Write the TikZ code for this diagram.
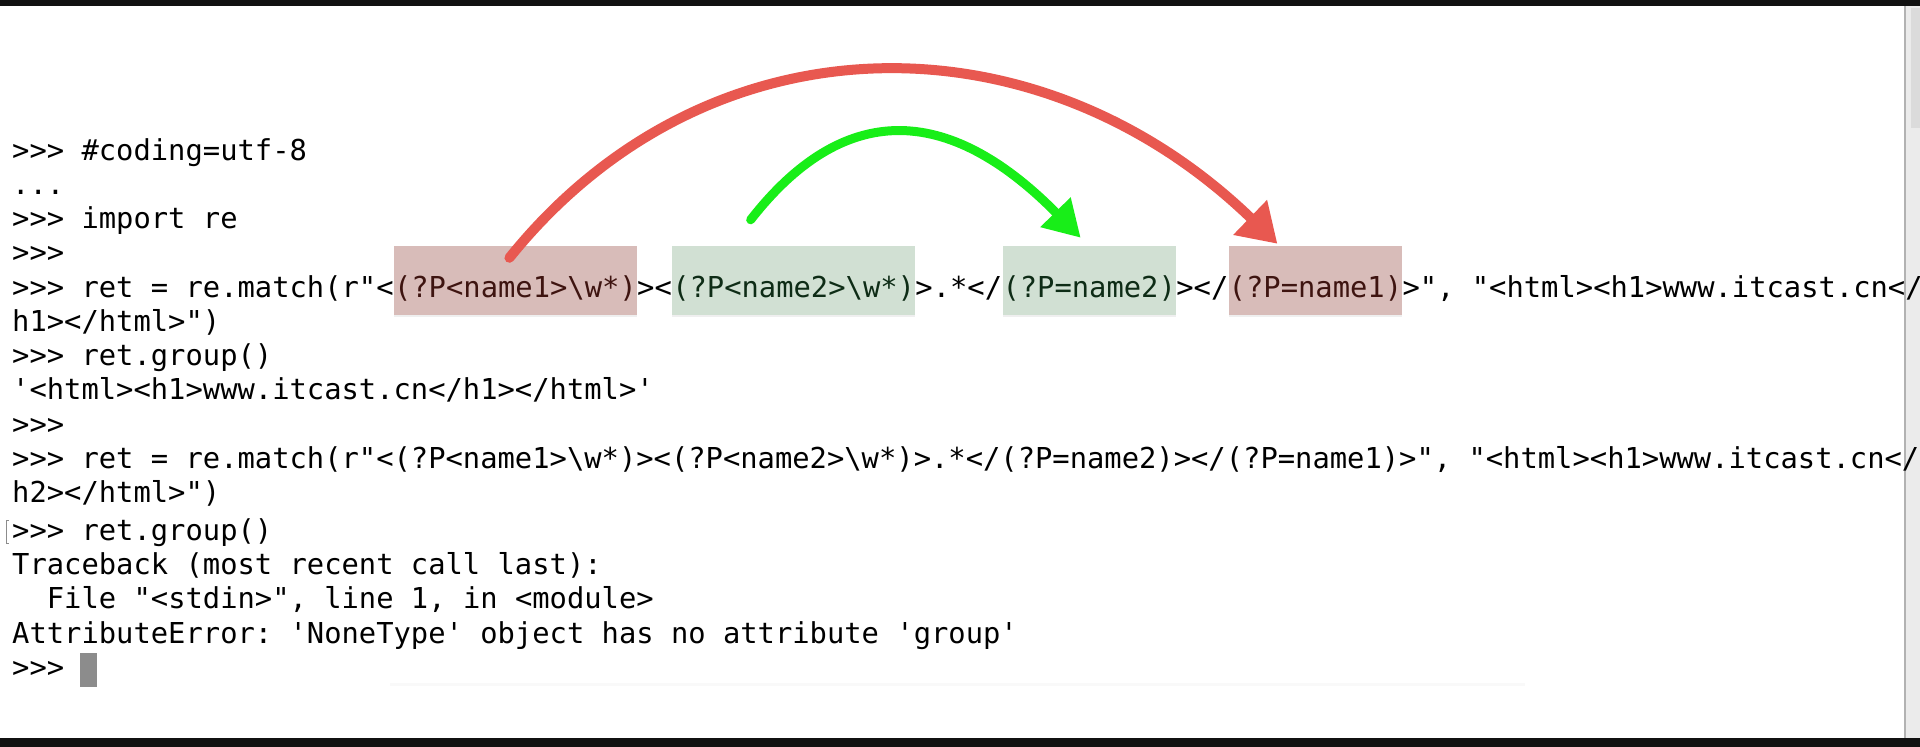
\documentclass[tikz,border=0pt]{standalone}
\usepackage{fontspec}
\setmonofont{DejaVu Sans Mono}
\usepackage{xcolor}
\usetikzlibrary{arrows.meta,positioning,shadows}
\definecolor{termbar}{RGB}{17,17,17}
\definecolor{hlred}{RGB}{216,188,185}
\definecolor{hlgreen}{RGB}{209,224,211}
\definecolor{txtred}{RGB}{62,20,16}
\definecolor{txtgreen}{RGB}{14,44,22}
\definecolor{penred}{RGB}{232,88,80}
\definecolor{pengreen}{RGB}{24,238,24}
\tikzset{
        term/.style = {inner sep=0pt, anchor=base west,
            font=\ttfamily\fontsize{28.8}{34}\selectfont, text=black},
        hlbox/.style = {term, text height=51pt, text depth=18pt,
            drop shadow={shadow xshift=0pt, shadow yshift=-2pt, opacity=0.12}},
        redbox/.style = {hlbox, fill=hlred, text=txtred},
        greenbox/.style = {hlbox, fill=hlgreen, text=txtgreen},
        pen/.style = {line width=10pt, line cap=round},
    }

\begin{document}
\begin{tikzpicture}[x=1pt, y=-1pt, node distance=0pt]
    \useasboundingbox (0,0) rectangle (1920,747);
    \fill[white] (0,0) rectangle (1920,747);
    \fill[termbar] (0,0) rectangle (1920,6);
    \fill[termbar] (0,738) rectangle (1920,747);
    % scroll bar at the right edge
    \fill[black!8] (1905,6) rectangle (1920,738);
    \fill[black!14] (1911,8) rectangle (1920,128);
    \draw[black!30, line width=1.5pt] (1905,6) -- (1905,738);
    \draw[black!2.5, line width=3pt] (390,684) -- (1525,684);

    \node[term] (l1) at (12,160) {>>> \#coding=utf-8};
    \node[term] (l2) at (12,194.25) {...};
    \node[term] (l3) at (12,228.5) {>>> import re};
    \node[term] (l4) at (12,262.75) {>>>};

    % first match, with the groups marked
    \node[term] (m1) at (12,297) {>>> ret = re.match(r"<};
    \node[redbox, base right=of m1] (n1) {(?P<name1>\textbackslash w*)};
    \node[term, base right=of n1] (m2) {><};
    \node[greenbox, base right=of m2] (n2) {(?P<name2>\textbackslash w*)};
    \node[term, base right=of n2] (m3) {>.*</};
    \node[greenbox, base right=of m3] (b2) {(?P=name2)};
    \node[term, base right=of b2] (m4) {></};
    \node[redbox, base right=of m4] (b1) {(?P=name1)};
    \node[term, base right=of b1] (m5) {>", "<html><h1>www.itcast.cn</};

    \node[term] (l6) at (12,331.25) {h1></html>")};
    \node[term] (l7) at (12,365.5) {>>> ret.group()};
    \node[term] (l8) at (12,399.75) {'<html><h1>www.itcast.cn</h1></html>'};
    \node[term] (l9) at (12,434) {>>>};
    \node[term] (l10) at (12,468.25) {>>> ret = re.match(r"<(?P<name1>\textbackslash w*)><(?P<name2>\textbackslash w*)>.*</(?P=name2)></(?P=name1)>", "<html><h1>www.itcast.cn</};
    \node[term] (l11) at (12,502.5) {h2></html>")};
    \draw[black!45, line width=1pt] (9,520) -- (6,520) -- (6,543) -- (9,543);
    \node[term] (l12) at (12,540) {>>> ret.group()};
    \node[term] (l13) at (12,574.4) {Traceback (most recent call last):};
    \node[term] (l14) at (46.7,608.8) {File "<stdin>", line 1, in <module>};
    \node[term] (l15) at (12,643.2) {AttributeError: 'NoneType' object has no attribute 'group'};
    \node[term] (l16) at (12,677.6) {>>>};
    \node[fill=black!45, inner sep=0pt, minimum width=17pt, minimum height=34pt,
        anchor=south west] (cursor) at (80,687) {};

    % back references
    \draw[pen, penred, -{Triangle[length=38pt,width=46pt]}]
        ([xshift=-6pt,yshift=-12pt]n1.north) .. controls +(198,-246) and +(-240,-232) .. ([xshift=-38pt,yshift=2pt]b1.north);
    \draw[pen, pengreen, line width=9pt, -{Triangle[length=36pt,width=40pt]}]
        ([xshift=-43pt,yshift=26pt]n2.north) .. controls +(92,-118) and +(-134,-136) .. ([xshift=-8.5pt,yshift=8pt]b2.north);
\end{tikzpicture}
\end{document}
